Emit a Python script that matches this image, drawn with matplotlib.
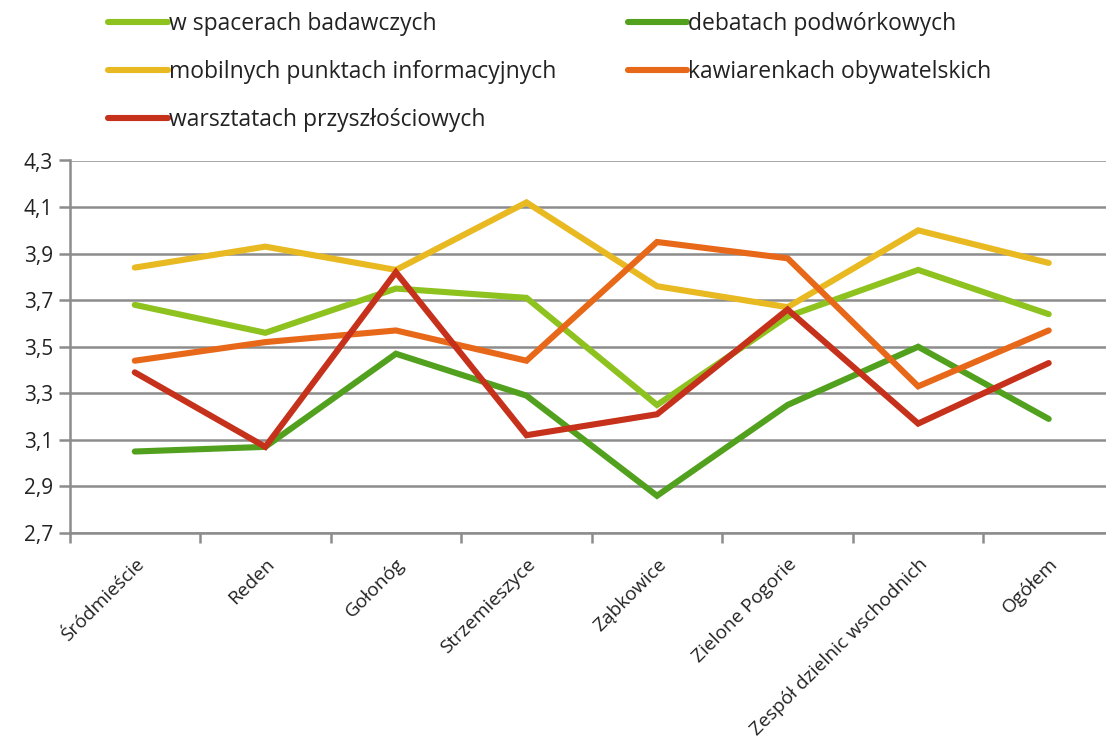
import matplotlib
matplotlib.use("Agg")
import matplotlib.pyplot as plt
import numpy as np

categories = ["Śródmieście", "Reden", "Gołonóg", "Strzemieszyce", "Ząbkowice",
              "Zielone Pogorie", "Zespół dzielnic wschodnich", "Ogółem"]
spacerach = [3.68, 3.56, 3.75, 3.71, 3.25, 3.63, 3.83, 3.64]
debatach = [3.05, 3.07, 3.47, 3.29, 2.86, 3.25, 3.50, 3.19]
mobilnych = [3.84, 3.93, 3.83, 4.12, 3.76, 3.67, 4.00, 3.86]
kawiarenkach = [3.44, 3.52, 3.57, 3.44, 3.95, 3.88, 3.33, 3.57]
warsztatach = [3.39, 3.07, 3.82, 3.12, 3.21, 3.66, 3.17, 3.43]

series = [
    ("w spacerach badawczych", spacerach, "#8DC21F"),
    ("debatach podwórkowych", debatach, "#52A11E"),
    ("mobilnych punktach informacyjnych", mobilnych, "#E8B920"),
    ("kawiarenkach obywatelskich", kawiarenkach, "#E8681A"),
    ("warsztatach przyszłościowych", warsztatach, "#C6311B"),
]
yticks = [2.7, 2.9, 3.1, 3.3, 3.5, 3.7, 3.9, 4.1, 4.3]
ytick_labels = ["2,7", "2,9", "3,1", "3,3", "3,5", "3,7", "3,9", "4,1", "4,3"]

plt.rcParams['font.family'] = ['Open Sans', 'DejaVu Sans']

W, H = 1106, 747
fig = plt.figure(figsize=(W / 100, H / 100), dpi=100)
left = 69.5 / W
right = 1114 / W
bottom = (H - 533) / H
top = (H - 160.5) / H
ax = fig.add_axes([left, bottom, right - left, top - bottom])

x = np.arange(len(categories))
handles = {}
for name, vals, col in series:
    ln, = ax.plot(x, vals, color=col, lw=4.4, solid_capstyle='round',
                  solid_joinstyle='miter', label=name, zorder=3)
    handles[name] = ln

ax.set_xlim(-0.5, len(categories) - 0.5)
ax.set_ylim(2.7, 4.3)
ax.set_yticks(yticks)
ax.set_yticklabels(ytick_labels, fontsize=15, color="#222222")
ax.yaxis.grid(True, color="#8c8c8c", lw=1.8)
ax.set_axisbelow(True)

ax.set_xticks(x)
ax.set_xticklabels(categories, rotation=45, ha='right', va='top',
                   rotation_mode='anchor', fontsize=13.8, color="#222222")
ax.tick_params(axis='x', length=0, pad=16)
ax.set_xticks(np.arange(-0.5, len(categories)), minor=True)
ax.tick_params(axis='x', which='minor', length=7, width=1.8, color="#8c8c8c")
ax.tick_params(axis='y', length=8, width=1.8, color="#8c8c8c", pad=4)

for s in ['top', 'right']:
    ax.spines[s].set_visible(False)
for s in ['left', 'bottom']:
    ax.spines[s].set_color("#8c8c8c")
    ax.spines[s].set_linewidth(1.8)

order = ["w spacerach badawczych", "mobilnych punktach informacyjnych",
         "warsztatach przyszłościowych", "debatach podwórkowych",
         "kawiarenkach obywatelskich"]
leg = fig.legend([handles[n] for n in order], order, loc='upper left',
                 bbox_to_anchor=(108 / W, 1 - 12 / H), ncol=2, frameon=False,
                 fontsize=16.5, handlelength=2.6, handletextpad=0.05,
                 labelspacing=1.05, columnspacing=3.12,
                 borderpad=0, borderaxespad=0)
for t in leg.get_texts():
    t.set_color("#222222")

fig.savefig("out.png", dpi=100)
